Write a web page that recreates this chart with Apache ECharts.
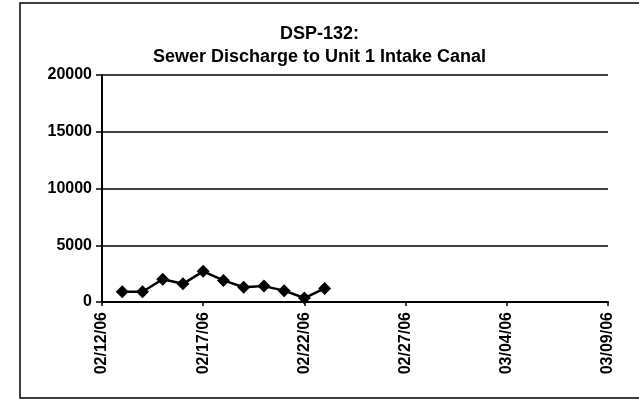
<!DOCTYPE html>
<html>
<head>
<meta charset="utf-8">
<script src="https://cdn.jsdelivr.net/npm/echarts@6/dist/echarts.min.js"></script>
<style>
  html, body { margin: 0; padding: 0; background: #fff; }
  #chart { width: 639px; height: 403px; }
</style>
</head>
<body>
<div id="chart"></div>
<script>
// sample dates and discharge readings
const sampleDates = ['02/13/06', '02/14/06', '02/15/06', '02/16/06', '02/17/06', '02/18/06',
  '02/19/06', '02/20/06', '02/21/06', '02/22/06', '02/23/06']
const discharge = [900, 900, 2000, 1600, 2700, 1900, 1300, 1400, 1000, 350, 1200]
const axisStart = '02/12/06'
const axisEnd = '03/09/06'
const yTicks = [0, 5000, 10000, 15000, 20000]

function parseDay(s) {
  const p = s.split('/')
  return Date.UTC(2000 + Number(p[2]), Number(p[0]) - 1, Number(p[1]))
}
const DAY = 86400000
const t0 = parseDay(axisStart)
const dayOf = s => (parseDay(s) - t0) / DAY
function fmtDay(d) {
  const dt = new Date(t0 + d * DAY)
  const mm = String(dt.getUTCMonth() + 1).padStart(2, '0')
  const dd = String(dt.getUTCDate()).padStart(2, '0')
  const yy = String(dt.getUTCFullYear() % 100).padStart(2, '0')
  return mm + '/' + dd + '/' + yy
}

const font = 'Liberation Sans, Arial, sans-serif'
const chart = echarts.init(document.getElementById('chart'))
chart.setOption({
  backgroundColor: '#fff',
  animation: false,
  title: {
    text: 'DSP-132:\nSewer Discharge to Unit 1 Intake Canal',
    left: 'center',
    top: 18,
    textStyle: {
      fontFamily: font,
      fontWeight: 'bold',
      fontSize: 18,
      lineHeight: 23,
      color: '#000'
    }
  },
  graphic: [{
    type: 'rect',
    shape: { x: 20, y: 3, width: 640, height: 395 },
    style: { fill: 'none', stroke: '#000', lineWidth: 1.5 },
    silent: true
  }],
  grid: {
    left: 102,
    right: 31,
    top: 75,
    bottom: 101
  },
  xAxis: {
    type: 'value',
    min: 0,
    max: dayOf(axisEnd),
    interval: 5,
    axisLine: { lineStyle: { color: '#000', width: 2 } },
    axisTick: { show: true, length: 4, lineStyle: { color: '#000', width: 1.5 } },
    splitLine: { show: false },
    axisLabel: {
      rotate: 90,
      margin: 10,
      fontFamily: font,
      fontWeight: 'bold',
      fontSize: 16,
      color: '#000',
      formatter: v => fmtDay(v)
    }
  },
  yAxis: {
    type: 'value',
    min: yTicks[0],
    max: yTicks[yTicks.length - 1],
    interval: 5000,
    axisLine: { show: true, lineStyle: { color: '#000', width: 2 } },
    axisTick: { show: true, length: 6, lineStyle: { color: '#000', width: 1.5 } },
    splitLine: { show: true, lineStyle: { color: '#000', width: 1.5 } },
    axisLabel: {
      margin: 10,
      fontFamily: font,
      fontWeight: 'bold',
      fontSize: 16,
      color: '#000',
      formatter: v => String(v)
    }
  },
  series: [{
    type: 'line',
    data: sampleDates.map((d, i) => [dayOf(d), discharge[i]]),
    symbol: 'diamond',
    symbolSize: 13,
    showSymbol: true,
    lineStyle: { color: '#000', width: 2.5 },
    itemStyle: { color: '#000' }
  }]
})
</script>
</body>
</html>
